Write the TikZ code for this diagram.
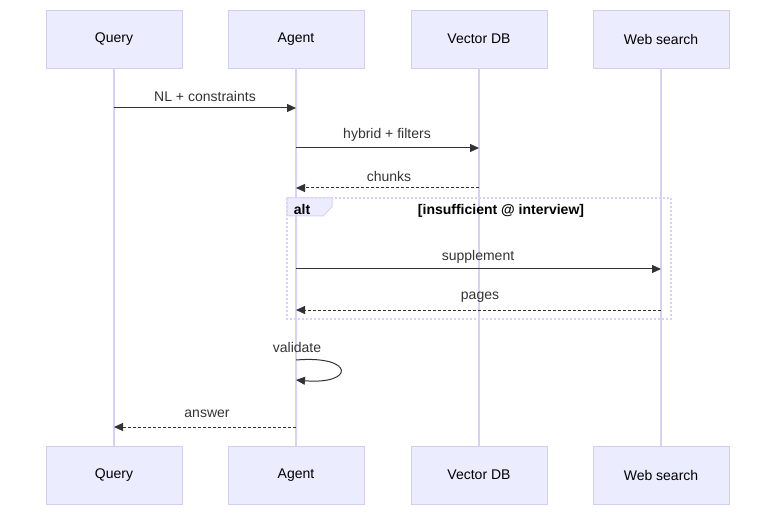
\documentclass[tikz,border=0pt]{standalone}
\usepackage{fontspec}
\setmainfont{Liberation Sans}
\usetikzlibrary{arrows.meta}
\definecolor{boxfill}{HTML}{ECECFF}
\definecolor{boxline}{HTML}{D5CCF2}
\definecolor{life}{HTML}{D9D0F5}
\definecolor{ink}{HTML}{333333}
\begin{document}
\begin{tikzpicture}[x=1pt,y=-1pt,
  actor/.style={draw=boxline,fill=boxfill,minimum width=136pt,minimum height=58pt,inner sep=0pt,font=\fontsize{14}{16}\selectfont,text=black},
  msg/.style={draw=ink,line width=1pt,-{Triangle[length=9pt,width=8pt]}},
  ret/.style={msg,dash pattern=on 3pt off 2pt},
  lbl/.style={font=\fontsize{14}{16}\selectfont,text=ink,inner sep=0pt}]
\useasboundingbox (0,0) rectangle (784,521);
\foreach \n/\x/\t in {q/114/Query,a/296/Agent,v/479/Vector DB,w/661/Web search}{
  \node[actor] (\n t) at (\x,39) {\t};
  \node[actor] (\n b) at (\x,475) {\t};
  \draw[life,line width=1.5pt] (\n t.south) -- (\n b.north);
}
\foreach \n/\x in {q/114,a/296,v/479,w/661}{
  \foreach \y in {108,148,188,269,310,360,380,427}{\coordinate (\n\y) at (\x,\y);}
}
\draw[msg] (q108) -- (a108);
\node[lbl] at (205,96) {NL + constraints};
\draw[msg] (a148) -- (v148);
\node[lbl] at (387,135) {hybrid + filters};
\draw[ret] (v188) -- (a188);
\node[lbl] at (389,176) {chunks};
% alt frame
\coordinate (f1) at (287,198); \coordinate (f2) at (671,319);
\draw[life,line width=1.2pt,dash pattern=on 2pt off 2pt] (f1) rectangle (f2);
\draw[life,fill=boxfill,line width=1pt] (287,198) -- (332,198) -- (332,207) -- (323,216) -- (287,216) -- cycle;
\node[lbl,font=\bfseries\fontsize{14}{16}\selectfont,text=black] at (302,209) {alt};
\node[lbl,font=\bfseries\fontsize{14}{16}\selectfont,text=black] at (501,211) {[insufficient @ interview]};
\draw[msg] (a269) -- (w269);
\node[lbl] at (478,257) {supplement};
\draw[ret] (w310) -- (a310);
\node[lbl] at (480,297) {pages};
\draw[msg] (a360) .. controls (355,355) and (355,385) .. (a380);
\node[lbl] at (297,347) {validate};
\draw[ret] (a427) -- (q427);
\node[lbl] at (207,414) {answer};
\end{tikzpicture}
\end{document}
